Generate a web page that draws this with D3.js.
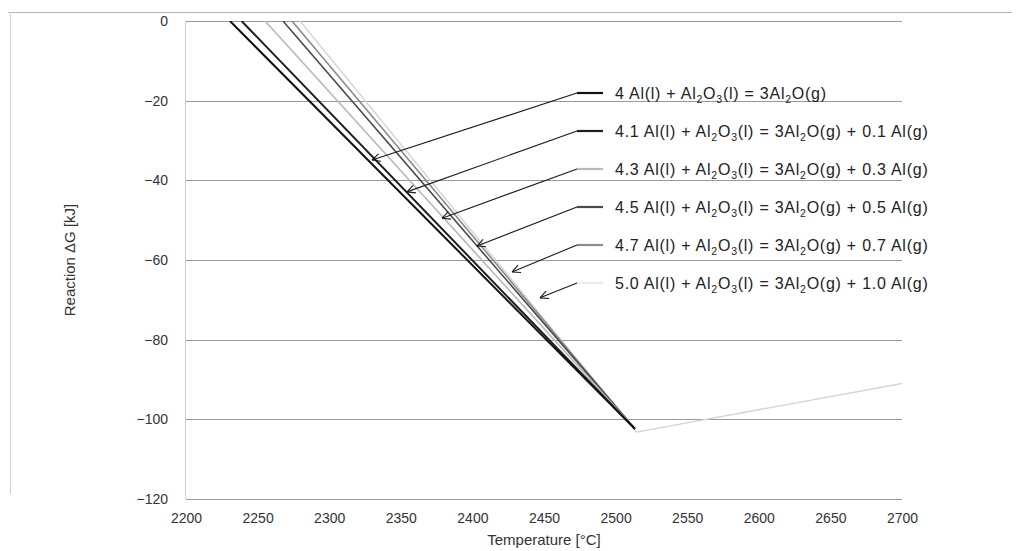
<!DOCTYPE html>
<html>
<head>
<meta charset="utf-8">
<script src="https://cdn.jsdelivr.net/npm/d3@7"></script>
<style>
  html, body { margin: 0; padding: 0; background: #fff; }
  svg { display: block; font-family: "Liberation Sans", Arial, Helvetica, sans-serif; }
</style>
</head>
<body>
<svg id="chart" width="1016" height="551"></svg>
<script>
// Axis ticks
const xTicks = [2200, 2250, 2300, 2350, 2400, 2450, 2500, 2550, 2600, 2650, 2700];
const yTicks = [0, -20, -40, -60, -80, -100, -120];

// Reaction labels ("_n" marks a subscript digit)
const labels = [
  "4 Al(l) + Al_2O_3(l) = 3Al_2O(g)",
  "4.1 Al(l) + Al_2O_3(l) = 3Al_2O(g) + 0.1 Al(g)",
  "4.3 Al(l) + Al_2O_3(l) = 3Al_2O(g) + 0.3 Al(g)",
  "4.5 Al(l) + Al_2O_3(l) = 3Al_2O(g) + 0.5 Al(g)",
  "4.7 Al(l) + Al_2O_3(l) = 3Al_2O(g) + 0.7 Al(g)",
  "5.0 Al(l) + Al_2O_3(l) = 3Al_2O(g) + 1.0 Al(g)"
];

// Reaction ΔG [kJ] vs temperature [°C], one list per reaction
const al40 = [[2230.7, 0], [2513.5, -102.4]];
const al41 = [[2238.8, 0], [2513.5, -102.4]];
const al43 = [[2255.2, 0], [2513.5, -102.4]];
const al45 = [[2267.7, 0], [2513.5, -102.4]];
const al47 = [[2274.0, 0], [2513.5, -102.4]];
const al50 = [[2279.6, 0], [2514.5, -103.2], [2700, -91]];

// Arrow tips [°C, kJ] for each reaction label
const arrowTips = [
  [2329.9, -34.9],
  [2354.3, -42.9],
  [2378.8, -49.5],
  [2403.2, -56.5],
  [2427.7, -63.0],
  [2447.2, -69.5]
];

const seriesData = [al40, al41, al43, al45, al47, al50];
const colors = ["#111111", "#1e1e1e", "#b8b8b8", "#4a4a4a", "#8a8a8a", "#d4d4d4"];
const widths = [2, 2, 1.6, 1.6, 1.6, 1.4];

const svg = d3.select("#chart");
const margin = { left: 186, right: 114, top: 21, bottom: 52 };
const W = 1016, H = 551;

const x = d3.scaleLinear().domain([2200, 2700]).range([margin.left, W - margin.right]);
const y = d3.scaleLinear().domain([-120, 0]).range([H - margin.bottom, margin.top]);

// Page frame
svg.append("line").attr("x1", 8).attr("x2", 1012).attr("y1", 12.5).attr("y2", 12.5)
  .attr("stroke", "#b5b5b5").attr("stroke-width", 1);
svg.append("line").attr("x1", 10.5).attr("x2", 10.5).attr("y1", 12).attr("y2", 494)
  .attr("stroke", "#d0d0d0").attr("stroke-width", 1);

// Horizontal gridlines
svg.append("g")
  .selectAll("line")
  .data(yTicks)
  .join("line")
  .attr("x1", x(2200)).attr("x2", x(2700))
  .attr("y1", d => Math.round(y(d)) + 0.5).attr("y2", d => Math.round(y(d)) + 0.5)
  .attr("stroke", "#999999")
  .attr("stroke-width", 1);

// Left axis line
svg.append("line")
  .attr("x1", x(2200) - 0.5).attr("x2", x(2200) - 0.5)
  .attr("y1", y(0)).attr("y2", y(-120))
  .attr("stroke", "#cfcfcf").attr("stroke-width", 1);

// Y axis tick labels
const yAxis = d3.axisLeft(y).tickValues(yTicks).tickSize(0).tickPadding(18)
  .tickFormat(d => d === 0 ? "0" : "\u2212" + Math.abs(d));
const gy = svg.append("g").attr("transform", `translate(${x(2200)},0)`).call(yAxis);
gy.select(".domain").remove();
gy.selectAll("text").attr("font-size", 14).attr("fill", "#333")
  .attr("font-family", "'Liberation Sans', Arial, sans-serif");

// X axis tick labels
const xAxis = d3.axisBottom(x).tickValues(xTicks).tickSize(0).tickPadding(14)
  .tickFormat(d3.format("d"));
const gx = svg.append("g").attr("transform", `translate(0,${y(-120)})`).call(xAxis);
gx.select(".domain").remove();
gx.selectAll("text").attr("font-size", 14).attr("fill", "#333")
  .attr("font-family", "'Liberation Sans', Arial, sans-serif");

// Axis titles
svg.append("text")
  .attr("x", (x(2200) + x(2700)) / 2).attr("y", 545)
  .attr("text-anchor", "middle").attr("font-size", 15).attr("fill", "#333")
  .text("Temperature [°C]");
svg.append("text")
  .attr("transform", `translate(75,${(y(0) + y(-120)) / 2}) rotate(-90)`)
  .attr("text-anchor", "middle").attr("font-size", 15).attr("fill", "#333")
  .text("Reaction \u0394G [kJ]");

// Reaction lines
svg.append("clipPath").attr("id", "plotClip")
  .append("rect").attr("x", x(2200)).attr("y", y(0)).attr("width", x(2700) - x(2200)).attr("height", y(-120) - y(0));

const line = d3.line().x(d => x(d[0])).y(d => y(d[1]));
const drawOrder = [5, 4, 3, 2, 1, 0];
svg.append("g").attr("clip-path", "url(#plotClip)")
  .selectAll("path")
  .data(drawOrder)
  .join("path")
  .attr("d", i => line(seriesData[i]))
  .attr("fill", "none")
  .attr("stroke", i => colors[i])
  .attr("stroke-width", i => widths[i])
  .attr("stroke-linejoin", "round");

// Labels with swatch, leader and arrowhead
const labelX = 615, labelTop = 93, labelStep = 38;
const swX0 = 577, swX1 = 603;
const ann = svg.append("g");
labels.forEach((lab, i) => {
  const ly = labelTop + i * labelStep;
  const tipX = x(arrowTips[i][0]);
  const tipY = y(arrowTips[i][1]);

  // swatch
  ann.append("line").attr("x1", swX0).attr("x2", swX1).attr("y1", ly).attr("y2", ly)
    .attr("stroke", i === 5 ? "#ececec" : colors[i]).attr("stroke-width", 2.2);

  // leader
  const sx = swX0, sy = ly;
  ann.append("line").attr("x1", sx).attr("y1", sy).attr("x2", tipX).attr("y2", tipY)
    .attr("stroke", "#1a1a1a").attr("stroke-width", 1.1);

  // open arrowhead
  const ang = Math.atan2(sy - tipY, sx - tipX);
  const len = 9, spread = 0.45;
  [ang - spread, ang + spread].forEach(a => {
    ann.append("line")
      .attr("x1", tipX).attr("y1", tipY)
      .attr("x2", tipX + len * Math.cos(a)).attr("y2", tipY + len * Math.sin(a))
      .attr("stroke", "#1a1a1a").attr("stroke-width", 1.1);
  });

  // label text with subscripts
  const t = ann.append("text").attr("x", labelX).attr("y", ly + 5.5)
    .attr("font-size", 16).attr("letter-spacing", 0.75).attr("fill", "#222");
  let lowered = false;
  lab.split(/(_\d)/).forEach(p => {
    if (!p) return;
    if (p[0] === "_") {
      t.append("tspan").attr("font-size", 10.5).attr("dy", lowered ? 0 : 4).text(p.slice(1));
      lowered = true;
    } else {
      t.append("tspan").attr("dy", lowered ? -4 : 0).text(p);
      lowered = false;
    }
  });
});
</script>
</body>
</html>
